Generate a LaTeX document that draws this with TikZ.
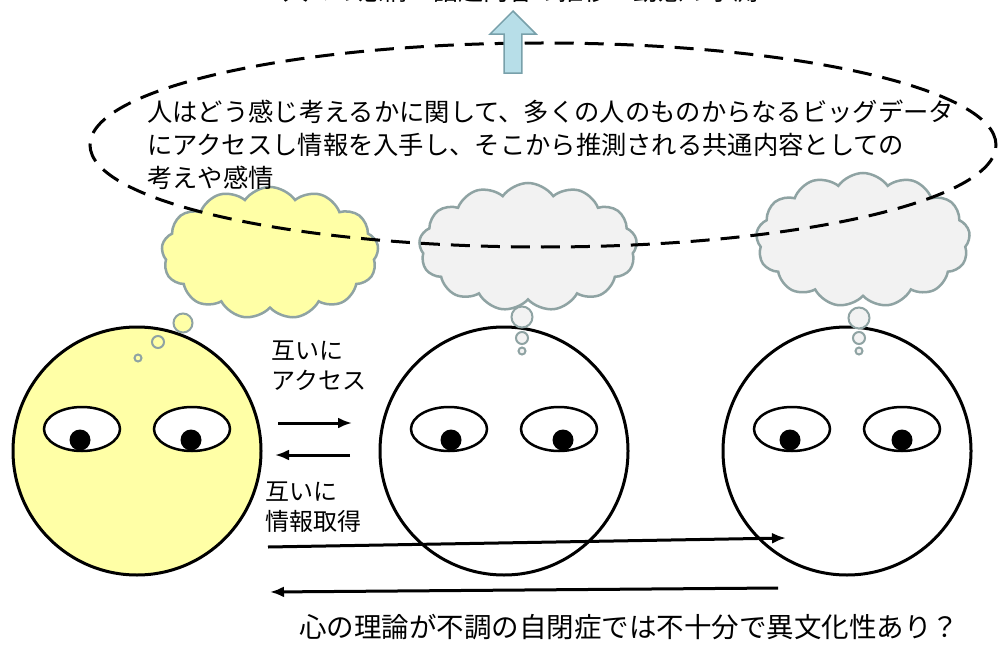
\documentclass[tikz,border=0pt]{standalone}
\usepackage{fontspec}
\setmainfont{Noto Sans CJK JP}
\usepackage{tikz}
\usetikzlibrary{calc}
\usetikzlibrary{arrows.meta}
\usetikzlibrary{shapes}
\usetikzlibrary{shapes.geometric}
\usetikzlibrary{shapes.symbols}
\usetikzlibrary{shapes.arrows}
\usetikzlibrary{positioning}
\tikzset{>=latex}
\definecolor{faceyellow}{RGB}{255,255,166}
\definecolor{cloudgray}{RGB}{242,242,242}
\definecolor{cloudedge}{RGB}{143,163,163}
\definecolor{upblue}{RGB}{183,222,232}
\definecolor{upedge}{RGB}{120,160,170}
\tikzstyle{face} = [circle, draw, line width=3pt, minimum size=248pt, inner sep=0]
\tikzstyle{eye} = [ellipse, draw, fill=white, line width=2.5pt, minimum width=76pt, minimum height=44pt, inner sep=0]
\tikzstyle{pupil} = [circle, fill=black, minimum size=21pt, inner sep=0]
\tikzstyle{thought} = [cloud, cloud puffs=13, cloud puff arc=110, cloud ignores aspect, draw=cloudedge, line width=2.5pt, inner sep=0]
\tikzstyle{bubble} = [circle, draw=cloudedge, line width=2pt, inner sep=0]
\tikzstyle{say} = [align=left, inner sep=0, font=\fontsize{24}{30}\selectfont]
\tikzstyle{flow} = [line width=3pt, -{Latex[length=14pt, width=11pt]}]

\begin{document}
\begin{tikzpicture}[x=1pt, y=-1pt]
\useasboundingbox (0,0) rectangle (998,655);
\fill [white] (0,0) rectangle (998,655);

% thought clouds
\node [thought, fill=faceyellow, minimum width=217pt, minimum height=132pt] (c1) at (270, 253) {};
\node [thought, fill=cloudgray, minimum width=218pt, minimum height=128pt] (c2) at (528, 247) {};
\node [thought, fill=cloudgray, minimum width=214pt, minimum height=134pt] (c3) at (863, 240) {};

% shared pool of thoughts
\node [ellipse, draw, line width=3pt, dash pattern=on 19pt off 11pt, minimum width=906pt, minimum height=204pt, inner sep=0] (pool) at (543, 145) {};
\node [single arrow, shape border rotate=90, draw=upedge, fill=upblue, line width=1.5pt,
       minimum width=46pt, minimum height=62pt, inner sep=8pt, single arrow head extend=14pt,
       anchor=tip] (up) at (513, 10) {};
\node [anchor=base west, inner sep=0, font=\fontsize{25}{30}\selectfont] (goal) at (283, 0.5) {人々の感情・話題内容の推移・動態の予測};
\node [anchor=north west, align=left, inner sep=0, font=\fontsize{25.3}{33}\selectfont] (bigdata) at (147, 100)
  {人はどう感じ考えるかに関して、多くの人のものからなるビッグデータ\\
   にアクセスし情報を入手し、そこから推測される共通内容としての\\
   考えや感情};

% faces
\node [face, fill=faceyellow] (me) at (137, 451) {};
\node [face] (p1) at (504, 451) {};
\node [face] (p2) at (847, 451) {};
\foreach \f/\dl/\dr in {me/-2/-1, p1/2/4, p2/-2/0} {
  \node [eye] at ($(\f)+(-55,-22)$) {};
  \node [eye] at ($(\f)+(55,-22)$) {};
  \node [pupil] at ($(\f)+(-55+\dl,-11)$) {};
  \node [pupil] at ($(\f)+(55+\dr,-11)$) {};
}

% bubbles up to the clouds
\node [bubble, fill=faceyellow, minimum size=19pt] (b11) at (183, 323) {};
\node [bubble, fill=faceyellow, minimum size=12pt] (b12) at (158, 342) {};
\node [bubble, fill=faceyellow, minimum size=7pt] (b13) at (138, 358) {};
\node [bubble, fill=cloudgray, minimum size=21pt] (b21) at (522, 317) {};
\node [bubble, fill=cloudgray, minimum size=12pt] (b22) at (522, 338) {};
\node [bubble, fill=cloudgray, minimum size=7pt] (b23) at (522, 351) {};
\node [bubble, fill=cloudgray, minimum size=21pt] (b31) at (859, 318) {};
\node [bubble, fill=cloudgray, minimum size=12pt] (b32) at (859, 338) {};
\node [bubble, fill=cloudgray, minimum size=7pt] (b33) at (859, 351) {};

% access and getting info
\node [say, anchor=north west] (access) at (271, 341) {互いに\\アクセス};
\node [say, anchor=north west] (getinfo) at (265, 482) {互いに\\情報取得};
\coordinate (a1) at (278, 423);
\coordinate (a2) at (352, 423);
\coordinate (b1) at (350, 455);
\coordinate (b2) at (275, 455);
\coordinate (l1) at (268, 547);
\coordinate (l2) at (786, 538);
\coordinate (r1) at (778, 588);
\coordinate (r2) at (270, 592);
\draw [flow] (a1) -- (a2);
\draw [flow] (b1) -- (b2);
\draw [flow] (l1) -- (l2);
\draw [flow] (r1) -- (r2);

\node [inner sep=0, font=\fontsize{27.5}{30}\selectfont] (autism) at (629, 627) {心の理論が不調の自閉症では不十分で異文化性あり？};
\end{tikzpicture}
\end{document}
